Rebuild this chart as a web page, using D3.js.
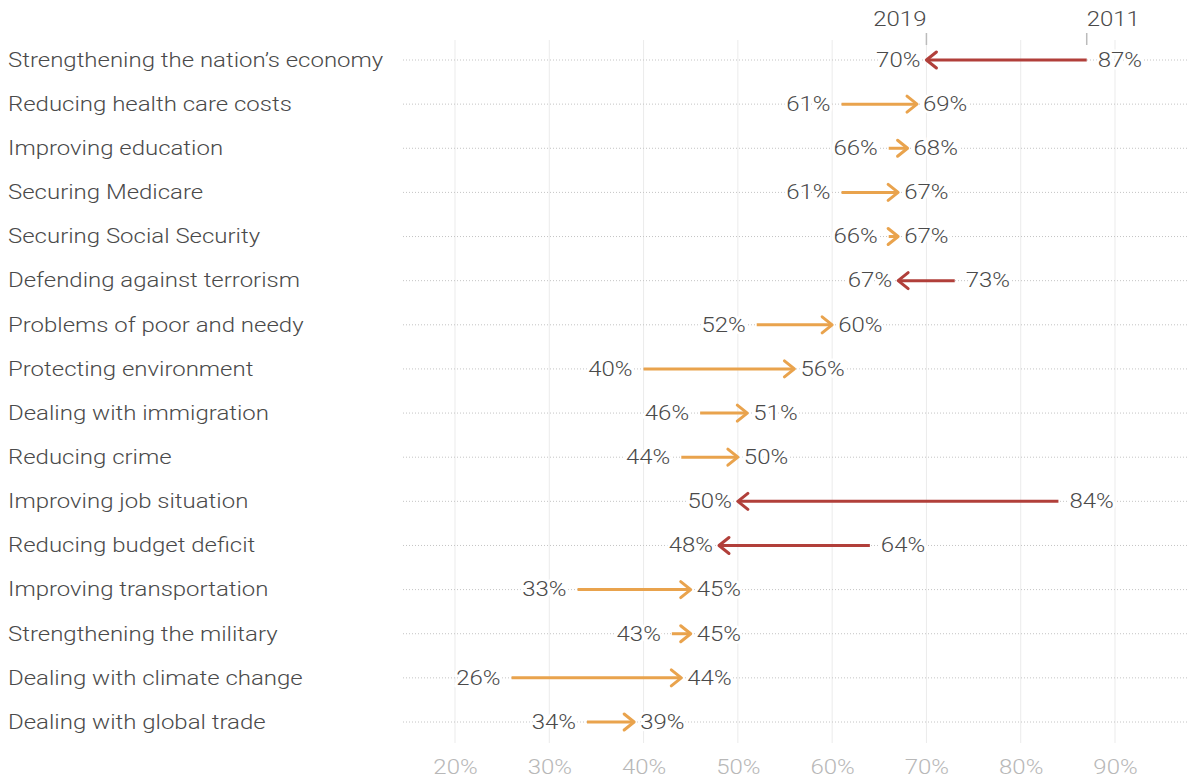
<!DOCTYPE html>
<html>
<head>
<meta charset="utf-8">
<script src="https://cdn.jsdelivr.net/npm/d3@7"></script>
<style>
  html, body { margin: 0; padding: 0; background: #fff; }
  svg { display: block; font-family: Roboto, "Open Sans", sans-serif; font-weight: 300; }
</style>
</head>
<body>
<div id="chart"></div>
<script>
// issues, top to bottom
const issues = [
	"Strengthening the nation’s economy",
	"Reducing health care costs",
	"Improving education",
	"Securing Medicare",
	"Securing Social Security",
	"Defending against terrorism",
	"Problems of poor and needy",
	"Protecting environment",
	"Dealing with immigration",
	"Reducing crime",
	"Improving job situation",
	"Reducing budget deficit",
	"Improving transportation",
	"Strengthening the military",
	"Dealing with climate change",
	"Dealing with global trade",
];
const values2011 = [87, 61, 66, 61, 66, 73, 52, 40, 46, 44, 84, 64, 33, 43, 26, 34];
const values2019 = [70, 69, 68, 67, 67, 67, 60, 56, 51, 50, 50, 48, 45, 45, 44, 39];
const xTicks = [20, 30, 40, 50, 60, 70, 80, 90];
const yearLabels = ["2011", "2019"];

const rows = issues.map((name, i) => ({ name, from: values2011[i], to: values2019[i] }));

const width = 1188;
const height = 778;

const colorUp = "#e9a34d";
const colorDown = "#b13f3a";
const textSize = "19.5px";
const stretch = 1.23; // text looks wide in the source, stretch it horizontally

const svg = d3.select("#chart")
	.append("svg")
	.attr("width", width)
	.attr("height", height);

// helper: text placed at (px, py), stretched sideways
function wideText(sel, px, py) {
	return sel.attr("x", 0).attr("y", 0)
		.attr("transform", `translate(${px},${py}) scale(${stretch},1)`);
}

// x scale, percent
const x = d3.scaleLinear().domain([20, 90]).range([455, 1115]);
const y = d3.scalePoint().domain(issues).range([60, 722]);

// vertical grid
svg.append("g")
	.selectAll("line")
	.data(xTicks)
	.join("line")
	.attr("x1", d => x(d))
	.attr("x2", d => x(d))
	.attr("y1", 40)
	.attr("y2", 743)
	.attr("stroke", "#ebebeb")
	.attr("stroke-width", 1);

// dotted row lines
svg.append("g")
	.selectAll("line")
	.data(issues)
	.join("line")
	.attr("x1", 403)
	.attr("x2", width)
	.attr("y1", d => y(d))
	.attr("y2", d => y(d))
	.attr("stroke", "#c4c4c4")
	.attr("stroke-width", 1)
	.attr("stroke-dasharray", "1,2");

// x axis labels
const xAxis = d3.axisBottom(x)
	.tickValues(xTicks)
	.tickFormat(d => d + "%")
	.tickSize(0)
	.tickPadding(0);
const xAxisGroup = svg.append("g")
	.attr("transform", "translate(0, 767)")
	.call(xAxis);
xAxisGroup.select(".domain").remove();
xAxisGroup.selectAll("text")
	.attr("dy", "0.35em")
	.attr("y", 0)
	.attr("transform", `scale(${stretch},1)`)
	.style("font-family", "Roboto, sans-serif")
	.style("font-weight", "300")
	.style("font-size", textSize)
	.style("fill", "#b8b8b8");

// row labels
svg.append("g")
	.selectAll("text")
	.data(issues)
	.join("text")
	.each(function (d) { wideText(d3.select(this), 8, y(d)); })
	.attr("dy", "0.35em")
	.style("font-size", textSize)
	.style("fill", "#4a4a4a")
	.text(d => d);

// arrows
const arrows = svg.append("g");
const head = 10;
rows.forEach(r => {
	const cy = y(r.name);
	const x0 = x(r.from);
	const x1 = x(r.to);
	const dir = x1 > x0 ? 1 : -1;
	const col = dir > 0 ? colorUp : colorDown;
	arrows.append("line")
		.attr("x1", x0)
		.attr("x2", x1 - dir * 1.5)
		.attr("y1", cy)
		.attr("y2", cy)
		.attr("stroke", col)
		.attr("stroke-width", 3);
	arrows.append("path")
		.attr("d", `M${x1 - dir * head},${cy - 8}L${x1},${cy}L${x1 - dir * head},${cy + 8}`)
		.attr("fill", "none")
		.attr("stroke", col)
		.attr("stroke-width", 3)
		.attr("stroke-linecap", "round")
		.attr("stroke-linejoin", "round");
});

// value labels
const valueLabels = svg.append("g")
	.style("font-size", textSize)
	.style("fill", "#4a4a4a");
rows.forEach(r => {
	const cy = y(r.name);
	const dir = r.to > r.from ? 1 : -1;
	wideText(valueLabels.append("text"), x(r.from) - dir * 11, cy)
		.attr("dy", "0.35em")
		.attr("text-anchor", dir > 0 ? "end" : "start")
		.attr("stroke", "#fff")
		.attr("stroke-width", 5)
		.attr("paint-order", "stroke")
		.text(r.from + "%");
	wideText(valueLabels.append("text"), x(r.to) + dir * 6, cy)
		.attr("dy", "0.35em")
		.attr("text-anchor", dir > 0 ? "start" : "end")
		.attr("stroke", "#fff")
		.attr("stroke-width", 5)
		.attr("paint-order", "stroke")
		.text(r.to + "%");
});

// year header above first row
const first = rows[0];
const header = svg.append("g");
[first.from, first.to].forEach((v, i) => {
	const isStart = i === 0;
	header.append("line")
		.attr("x1", x(v))
		.attr("x2", x(v))
		.attr("y1", 33)
		.attr("y2", 45)
		.attr("stroke", "#bbb")
		.attr("stroke-width", 1.5);
	wideText(header.append("text"), x(v), 19)
		.attr("dy", "0.35em")
		.attr("text-anchor", isStart ? "start" : "end")
		.style("font-size", textSize)
		.style("fill", "#4a4a4a")
		.text(yearLabels[i]);
});
</script>
</body>
</html>
